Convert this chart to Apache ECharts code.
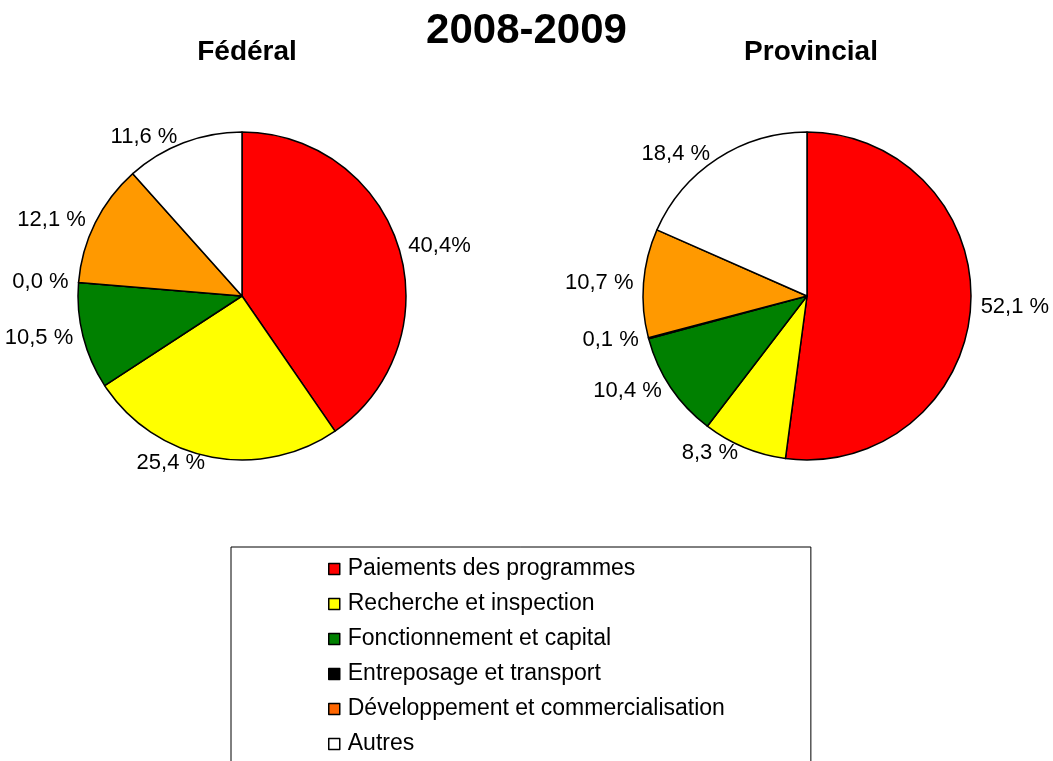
<!DOCTYPE html>
<html>
<head>
<meta charset="utf-8">
<script src="https://cdn.jsdelivr.net/npm/echarts@6/dist/echarts.min.js"></script>
<style>
  html, body { margin: 0; padding: 0; background: #fff; overflow: hidden; }
  #chart { width: 1053px; height: 820px; }
</style>
</head>
<body>
<div id="chart"></div>
<script>
const categories = [
  'Paiements des programmes',
  'Recherche et inspection',
  'Fonctionnement et capital',
  'Entreposage et transport',
  'Développement et commercialisation',
  'Autres'
]
const colors = ['#FF0000', '#FFFF00', '#008000', '#000000', '#FF9900', '#FFFFFF']

const federalValues = [40.4, 25.4, 10.5, 0.0, 12.1, 11.6]
const federalLabels = ['40,4%', '25,4 %', '10,5 %', '0,0 %', '12,1 %', '11,6 %']

const provincialValues = [52.1, 8.3, 10.4, 0.1, 10.7, 18.4]
const provincialLabels = ['52,1 %', '8,3 %', '10,4 %', '0,1 %', '10,7 %', '18,4 %']

const font = 'Liberation Sans, Arial, sans-serif'

const makePie = (name, center, values, labels) => ({
  name,
  type: 'pie',
  center,
  radius: 164,
  startAngle: 90,
  clockwise: true,
  avoidLabelOverlap: true,
  stillShowZeroSum: true,
  minShowLabelAngle: 0,
  animation: false,
  itemStyle: {
    borderColor: '#000',
    borderWidth: 1.5
  },
  label: {
    show: true,
    position: 'outside',
    color: '#000',
    fontFamily: font,
    fontSize: 22,
    overflow: 'none',
    distanceToLabelLine: 2,
    formatter: p => labels[p.dataIndex]
  },
  labelLine: {
    show: false,
    length: 6,
    length2: 2
  },
  emphasis: { disabled: true },
  data: categories.map((c, i) => ({
    name: c,
    value: values[i],
    itemStyle: { color: colors[i] }
  }))
})

const chart = echarts.init(document.getElementById('chart'))

const option = {
  backgroundColor: '#fff',
  color: colors,
  title: [
    {
      text: '2008-2009',
      left: 'center',
      top: 5,
      textStyle: { fontFamily: font, fontSize: 42, fontWeight: 'bold', color: '#000' }
    },
    {
      text: 'Fédéral',
      left: 242,
      textAlign: 'center',
      top: 33,
      textStyle: { fontFamily: font, fontSize: 28, fontWeight: 'bold', color: '#000' }
    },
    {
      text: 'Provincial',
      left: 806,
      textAlign: 'center',
      top: 33,
      textStyle: { fontFamily: font, fontSize: 28, fontWeight: 'bold', color: '#000' }
    }
  ],
  legend: {
    orient: 'vertical',
    left: 231,
    top: 547,
    height: 260,
    padding: [10, 86, 20, 97],
    borderColor: '#000',
    borderWidth: 1,
    itemWidth: 11,
    itemHeight: 11,
    itemGap: 11,
    icon: 'rect',
    selectedMode: false,
    itemStyle: { borderColor: '#000', borderWidth: 1.5 },
    textStyle: { fontFamily: font, fontSize: 23, color: '#000', lineHeight: 24, padding: [0, 0, 0, 3] },
    data: categories.map((c, i) => ({
      name: c,
      itemStyle: { color: i === 4 ? '#FF6600' : colors[i], borderColor: '#000', borderWidth: 1.5 }
    }))
  },
  series: [
    makePie('Fédéral', [242, 296], federalValues, federalLabels),
    makePie('Provincial', [807, 296], provincialValues, provincialLabels)
  ]
}

chart.setOption(option)
</script>
</body>
</html>
